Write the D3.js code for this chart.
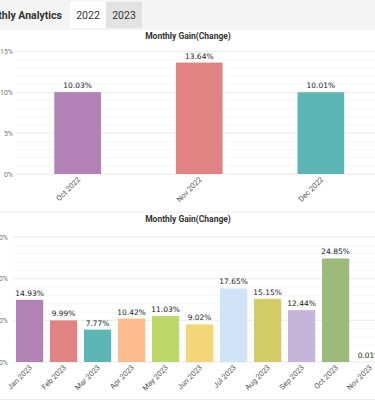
<!DOCTYPE html>
<html>
<head>
<meta charset="utf-8">
<script src="https://cdn.jsdelivr.net/npm/d3@7"></script>
<style>
  body { margin: 0; background: #fff; }
  svg { display: block; font-family: Roboto, "Liberation Sans", sans-serif; }
</style>
</head>
<body>
<div id="chart"></div>
<script>
// 2022 data
const months2022 = ["Oct 2022", "Nov 2022", "Dec 2022"];
const gains2022 = [10.03, 13.64, 10.01];
const colors2022 = ["#b282b6", "#e28383", "#5cb6b6"];
const ticks2022 = [0, 5, 10, 15];

// 2023 data
const months2023 = ["Jan 2023", "Feb 2023", "Mar 2023", "Apr 2023", "May 2023", "Jun 2023",
  "Jul 2023", "Aug 2023", "Sep 2023", "Oct 2023", "Nov 2023"];
const gains2023 = [14.93, 9.99, 7.77, 10.42, 11.03, 9.02, 17.65, 15.15, 12.44, 24.85, 0.01];
const colors2023 = ["#b282b6", "#e28383", "#5cb6b6", "#fdbb8e", "#bdd76b", "#f3d676",
  "#cfe4f8", "#d3cc66", "#c6b4da", "#9cba7b", "#8fb3d9"];
const ticks2023 = [0, 10, 20, 30];

const tabs = ["2022", "2023"];

const width = 375, height = 402;
const svg = d3.select("#chart").append("svg")
  .attr("width", width)
  .attr("height", height);

// header bar
svg.append("rect").attr("x", 0).attr("y", 0).attr("width", width).attr("height", 30).attr("fill", "#f4f4f4");
svg.append("text")
  .attr("x", 62).attr("y", 19)
  .attr("text-anchor", "end")
  .attr("font-size", 10.5).attr("font-weight", 700).attr("fill", "#333")
  .text("Monthly Analytics");

const tabX = d3.scaleBand().domain(tabs).range([70, 142]);
svg.selectAll(".tab").data(tabs).join("rect")
  .attr("x", d => tabX(d)).attr("y", 2)
  .attr("width", tabX.bandwidth()).attr("height", 26)
  .attr("fill", (d, i) => i === 1 ? "#e2e2e2" : "#fff");
svg.selectAll(".tabtext").data(tabs).join("text")
  .attr("x", d => tabX(d) + tabX.bandwidth() / 2).attr("y", 19)
  .attr("text-anchor", "middle").attr("font-size", 10.5).attr("fill", "#333")
  .text(d => d);

function drawChart(opts) {
  const g = svg.append("g");

  g.append("text")
    .attr("x", 188).attr("y", opts.titleY)
    .attr("text-anchor", "middle").attr("font-size", 8.5).attr("font-weight", 700).attr("fill", "#333")
    .text("Monthly Gain(Change)");

  const x = d3.scaleBand().domain(opts.cats)
    .range(opts.xRange)
    .paddingInner(opts.padIn).paddingOuter(opts.padOut);
  const y = d3.scaleLinear().domain([0, opts.max]).range(opts.yRange);

  // minor grid
  g.selectAll(".minor").data(d3.range(0, opts.max + 0.001, opts.minor)).join("line")
    .attr("x1", opts.gridX).attr("x2", width)
    .attr("y1", d => y(d)).attr("y2", d => y(d))
    .attr("stroke", "#f6f6f6").attr("stroke-width", 1);
  // major grid
  g.selectAll(".major").data(opts.ticks).join("line")
    .attr("x1", opts.gridX).attr("x2", width)
    .attr("y1", d => y(d)).attr("y2", d => y(d))
    .attr("stroke", "#ececec").attr("stroke-width", 1);

  g.selectAll(".ylab").data(opts.ticks).join("text")
    .attr("x", opts.labelX).attr("y", d => y(d) + 2.5)
    .attr("text-anchor", "end").attr("font-size", 7).attr("fill", "#777")
    .text(d => d + "%");

  g.selectAll(".bar").data(opts.values).join("rect")
    .attr("x", (d, i) => x(opts.cats[i]))
    .attr("y", d => y(d))
    .attr("width", x.bandwidth())
    .attr("height", d => y(0) - y(d))
    .attr("fill", (d, i) => opts.colors[i]);

  g.selectAll(".val").data(opts.values).join("text")
    .attr("x", (d, i) => x(opts.cats[i]) + x.bandwidth() / 2)
    .attr("y", d => y(d) - 4)
    .attr("text-anchor", "middle").attr("font-size", 7.5).attr("fill", "#222")
    .attr("font-family", "'DejaVu Sans', sans-serif")
    .text(d => d.toFixed(2) + "%");

  g.selectAll(".xlab").data(opts.cats).join("text")
    .attr("transform", d => `translate(${x(d) + x.bandwidth() / 2 + 3},${y(0) + 6}) rotate(-45)`)
    .attr("text-anchor", "end").attr("font-size", 7.5).attr("fill", "#555")
    .text(d => d);
}

drawChart({
  cats: months2022, values: gains2022, colors: colors2022, ticks: ticks2022,
  max: 15, minor: 1, titleY: 39,
  xRange: [16.6, 381.9], padIn: 0.616, padOut: 0.31,
  yRange: [174, 51.5], gridX: 16, labelX: 13
});

// separator
svg.append("line").attr("x1", 0).attr("x2", width).attr("y1", 212).attr("y2", 212)
  .attr("stroke", "#ececec");

drawChart({
  cats: months2023, values: gains2023, colors: colors2023, ticks: ticks2023,
  max: 30, minor: 2, titleY: 222,
  xRange: [12.6, 386.6], padIn: 0.2, padOut: 0.1,
  yRange: [362, 237], gridX: 13, labelX: 8
});

svg.append("line").attr("x1", 0).attr("x2", width).attr("y1", 399.5).attr("y2", 399.5)
  .attr("stroke", "#ececec");
</script>
</body>
</html>
